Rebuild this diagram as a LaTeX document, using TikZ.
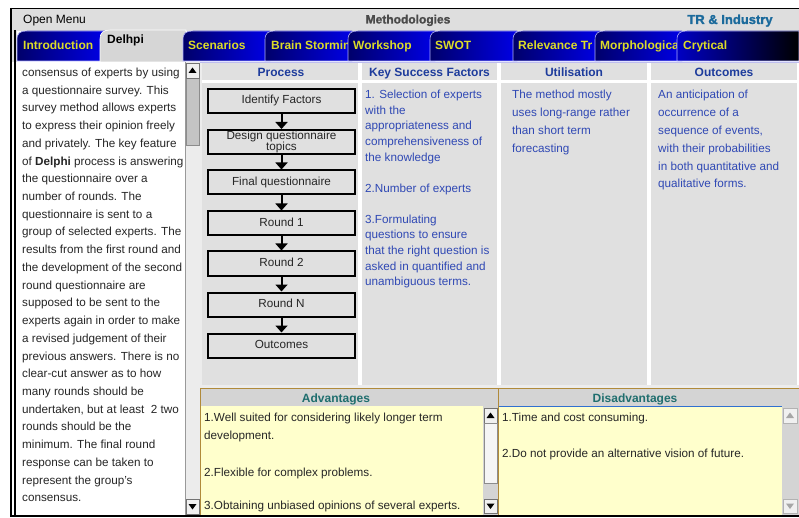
\documentclass[tikz,border=0pt]{standalone}
\usepackage{fontspec}
\setmainfont{Liberation Sans}
\usetikzlibrary{arrows.meta}
\definecolor{titlegray}{HTML}{DEDEDE}
\definecolor{cellgray}{HTML}{E0E0E0}
\definecolor{tabnavy}{HTML}{00006A}
\definecolor{tabblue}{HTML}{0000E6}
\definecolor{tabtext}{HTML}{DCDC28}
\definecolor{activetab}{HTML}{D6D6D6}
\definecolor{hdrblue}{HTML}{1E3C9C}
\definecolor{bodyblue}{HTML}{2F48B4}
\definecolor{bodytext}{HTML}{262626}
\definecolor{advyellow}{HTML}{FFFFCC}
\definecolor{olivebar}{HTML}{B08A3A}
\definecolor{advteal}{HTML}{1F6E6E}
\definecolor{trgray}{HTML}{1B6A9C}
\definecolor{methgray}{HTML}{4A4A4A}
\definecolor{trackgray}{HTML}{ECECEC}
\definecolor{thumbgray}{HTML}{C4C4C4}
\definecolor{panelgray}{HTML}{D4D4D4}
\definecolor{lavender}{HTML}{BDBDEF}
\definecolor{disline}{HTML}{3070D0}
\tikzset{
  tabfill/.style={left color=tabnavy, right color=tabblue, draw=white!70!blue, line width=0.6pt},
  tablabel/.style={anchor=base west, inner sep=0, text=tabtext, font=\fontsize{12}{14}\selectfont\bfseries},
  lefttxt/.style={anchor=base west, inner sep=0, text=bodytext, font=\fontsize{11.7}{14}\selectfont},
  ksftxt/.style={anchor=base west, inner sep=0, text=bodyblue, font=\fontsize{11.7}{13}\selectfont},
  bluetxt/.style={anchor=base west, inner sep=0, text=bodyblue, font=\fontsize{11.7}{14}\selectfont},
  yeltxt/.style={anchor=base west, inner sep=0, text=bodytext, font=\fontsize{11.7}{14}\selectfont},
  hdr/.style={anchor=base, inner sep=0, text=hdrblue, font=\fontsize{12}{14}\selectfont\bfseries},
  panelhdr/.style={anchor=base, inner sep=0, text=advteal, font=\fontsize{12}{14}\selectfont\bfseries},
  procbox/.style={draw=black, line width=2pt, fill=cellgray, minimum width=147pt, minimum height=24pt,
    inner sep=0, text=bodytext, font=\fontsize{11.7}{11.7}\selectfont, text height=8pt, text depth=2.5pt},
  proctxt/.style={anchor=base, inner sep=0, text=bodytext, font=\fontsize{11.7}{11.7}\selectfont},
  procarrow/.style={line width=2pt, -{Triangle[width=12pt,length=7pt]}},
  sbbtn/.style={fill=white!94!black, draw=black!55, line width=0.6pt},
  sbthumb/.style={fill=thumbgray, draw=black!45, line width=0.6pt},
}
\begin{document}
\begin{tikzpicture}[x=1pt,y=-1pt]
\useasboundingbox (0,0) rectangle (799,518);
\fill[white] (0,0) rectangle (799,518);
% title bar
\fill[titlegray] (10,8) rectangle (799,31);
\draw[line width=1.5pt] (10,8.75) -- (799,8.75);
\node[anchor=base west, inner sep=0, font=\fontsize{12}{14}\selectfont] (openmenu) at (23,23.5) {Open Menu};
\node[anchor=base, inner sep=0, text=methgray, font=\fontsize{12}{14}\selectfont\bfseries\addfontfeature{FakeBold=1.5}] (meth) at (408,23.5) {Methodologies};
\node[anchor=base, inner sep=0, text=trgray, font=\fontsize{13}{15}\selectfont\bfseries\addfontfeature{FakeBold=1.5}] (tr) at (730,24) {TR \& Industry};
% tab bar
\fill[titlegray] (10,31) rectangle (17,62);
\fill[tabfill] (17,61) -- (17,40) .. controls (17,33) and (20,31) .. (27,31) -- (105,31) -- (105,61) -- cycle;
\node[tablabel] (tIntro) at (23,50) {Introduction};
\fill[activetab, draw=white, line width=0.6pt] (100,62) -- (100,39) .. controls (100,33) and (103,30) .. (110,30) -- (186,30) -- (186,62) -- cycle;
\node[anchor=base west, inner sep=0, font=\fontsize{12}{14}\selectfont\bfseries] (tDelphi) at (107,44) {Delhpi};
\filldraw[tabfill] (183,61) -- (183,40) .. controls (183,33) and (186,31) .. (193,31) -- (270,31) -- (270,61) -- cycle;
\node[tablabel] (tScen) at (188,50) {Scenarios};
\filldraw[tabfill] (265,61) -- (265,40) .. controls (265,33) and (268,31) .. (275,31) -- (352,31) -- (352,61) -- cycle;
\node[tablabel] (tBrain) at (271,50) {Brain Stormin};
\filldraw[tabfill] (348,61) -- (348,40) .. controls (348,33) and (351,31) .. (358,31) -- (435,31) -- (435,61) -- cycle;
\node[tablabel] (tWork) at (353,50) {Workshop};
\filldraw[tabfill] (430,61) -- (430,40) .. controls (430,33) and (433,31) .. (440,31) -- (517,31) -- (517,61) -- cycle;
\node[tablabel] (tSwot) at (435,50) {SWOT};
\filldraw[tabfill] (513,61) -- (513,40) .. controls (513,33) and (516,31) .. (523,31) -- (600,31) -- (600,61) -- cycle;
\node[tablabel] (tRel) at (518,50) {Relevance Tr};
\filldraw[tabfill] (595,61) -- (595,40) .. controls (595,33) and (598,31) .. (605,31) -- (682,31) -- (682,61) -- cycle;
\node[tablabel] (tMorph) at (600,50) {Morphologica};
\filldraw[left color=tabblue!85!black, right color=black, draw=white!70!blue, line width=0.6pt] (677,61) -- (677,40) .. controls (677,33) and (680,31) .. (687,31) -- (799,31) -- (799,61) -- cycle;
\node[tablabel] (tCryt) at (683,50) {Crytical};
% left frame
\fill[white] (10,62) rectangle (17,516);
\draw[line width=1.5pt] (10.75,8) -- (10.75,517);
\draw[line width=1.2pt] (15,30) -- (15,516);
% left text panel
\fill[white] (17,62) rectangle (185,515);
\fill[trackgray] (185,62) rectangle (200,515);
\draw[black!40, line width=0.5pt] (185,62) -- (185,515);
\filldraw[sbthumb] (186,78) rectangle (199,145);
\filldraw[sbbtn] (186,63) rectangle (199,78);
\fill (192.5,67.5) -- (196.5,73) -- (188.5,73) -- cycle;
\filldraw[sbbtn] (186,499) rectangle (199,514);
\fill (192.5,509.5) -- (196.5,504) -- (188.5,504) -- cycle;
\foreach \t [count=\i from 0] in {consensus of experts by using, a questionnaire survey. This, survey method allows experts, to express their opinion freely, and privately. The key feature, of \textbf{Delphi} process is answering, the questionnaire over a, number of rounds. The, questionnaire is sent to a, group of selected experts. The, results from the first round and, the development of the second, round questionnaire are, supposed to be sent to the, experts again in order to make, a revised judgement of their, previous answers. There is no, clear-cut answer as to how, many rounds should be, {undertaken, but at least\ \ 2 two}, rounds should be the, minimum. The final round, response can be taken to, represent the group's, consensus.}
  \node[lefttxt] (l\i) at (22,76.5+17.72*\i) {\t};
% content area
\fill[white] (200,62) rectangle (799,388);
\fill[trackgray] (200,62) rectangle (202,388);
\draw[lavender, line width=1pt] (200,62.5) -- (799,62.5);
\fill[cellgray] (202,63.5) rectangle (358,80);
\fill[cellgray] (362,63.5) rectangle (497,80);
\fill[cellgray] (501,63.5) rectangle (647,80);
\fill[cellgray] (651,63.5) rectangle (797,80);
\fill[cellgray] (202,83) rectangle (358,385);
\fill[cellgray] (362,83) rectangle (497,385);
\fill[cellgray] (501,83) rectangle (647,385);
\fill[cellgray] (651,83) rectangle (797,385);
\fill[trackgray] (200,385) rectangle (799,388);
\node[hdr] (hProc) at (281,76.5) {Process};
\node[hdr] (hKsf) at (429.5,76.5) {Key Success Factors};
\node[hdr] (hUtil) at (574,76.5) {Utilisation};
\node[hdr] (hOut) at (724,76.5) {Outcomes};
% process flow
\node[procbox] (b1) at (281.5,101) {Identify Factors};
\node[procbox] (b2) at (281.5,142) {};
\node[proctxt] (b2a) at (281.5,140) {Design questionnaire};
\node[proctxt] (b2b) at (281.5,150.5) {topics};
\node[procbox] (b3) at (281.5,182.5) {Final questionnaire};
\node[procbox] (b4) at (281.5,223.5) {Round 1};
\node[procbox] (b5) at (281.5,263.5) {Round 2};
\node[procbox] (b6) at (281.5,304.5) {Round N};
\node[procbox] (b7) at (281.5,345.5) {Outcomes};
\foreach \a/\b in {b1/b2,b2/b3,b3/b4,b4/b5,b5/b6,b6/b7}
  \draw[procarrow] (\a.south) -- (\b.north);
% key success factors
\foreach \t/\y [count=\i] in {1. Selection of experts/99, with the/114.5, appropriateness and/130, comprehensiveness of/145.6, the knowledge/161.2, 2.Number of experts/192.3, 3.Formulating/223.4, questions to ensure/239, that the right question is/254.5, asked in quantified and/270, unambiguous terms./285.5}
  \node[ksftxt] (k\i) at (365,\y) {\t};
% utilisation
\foreach \t [count=\i from 0] in {The method mostly, uses long-range rather, than short term, forecasting}
  \node[bluetxt] (u\i) at (512,98.5+17.9*\i) {\t};
% outcomes
\foreach \t [count=\i from 0] in {An anticipation of, occurrence of a, {sequence of events,}, with their probabilities, in both quantitative and, qualitative forms.}
  \node[bluetxt] (o\i) at (658,98.5+17.9*\i) {\t};
% bottom panels
\fill[panelgray] (200,389) rectangle (799,406);
\draw[olivebar, line width=1.2pt] (200,388.6) -- (799,388.6);
\fill[advyellow] (201,406) rectangle (483,515);
\fill[advyellow] (499,406) rectangle (782,515);
\draw[disline, line width=1pt] (499,406.5) -- (782,406.5);
\draw[olivebar, line width=1pt] (200.5,388) -- (200.5,515);
\draw[olivebar, line width=1pt] (498.5,388) -- (498.5,515);
\node[panelhdr] (hAdv) at (336,402.5) {Advantages};
\node[panelhdr] (hDis) at (635,402.5) {Disadvantages};
% advantages scrollbar
\fill[panelgray] (483,406) rectangle (498,515);
\filldraw[sbbtn] (484,408) rectangle (497,423);
\fill (490.5,412.5) -- (494.5,418) -- (486.5,418) -- cycle;
\filldraw[fill=white!96!black, draw=black!45, line width=0.6pt] (484,423) rectangle (497,483);
\filldraw[sbbtn] (484,499) rectangle (497,513);
\fill (490.5,509) -- (494.5,503.5) -- (486.5,503.5) -- cycle;
% disadvantages scrollbar
\fill[panelgray] (782,406) rectangle (799,515);
\filldraw[fill=white!94!black, draw=black!30, line width=0.6pt] (783,408) rectangle (797,423);
\fill[black!35] (790,412.5) -- (794,418) -- (786,418) -- cycle;
\filldraw[fill=white!94!black, draw=black!30, line width=0.6pt] (783,499) rectangle (797,513);
\fill[black!35] (790,509) -- (794,503.5) -- (786,503.5) -- cycle;
% panel texts
\node[yeltxt] (a1) at (204,421) {1.Well suited for considering likely longer term};
\node[yeltxt] (a2) at (204,439) {development.};
\node[yeltxt] (a3) at (204,476) {2.Flexible for complex problems.};
\node[yeltxt] (a4) at (204,509) {3.Obtaining unbiased opinions of several experts.};
\node[yeltxt] (d1) at (502,421) {1.Time and cost consuming.};
\node[yeltxt] (d2) at (502,457) {2.Do not provide an alternative vision of future.};
% bottom frame
\draw[line width=1.5pt] (10,515.75) -- (799,515.75);
\end{tikzpicture}
\end{document}
